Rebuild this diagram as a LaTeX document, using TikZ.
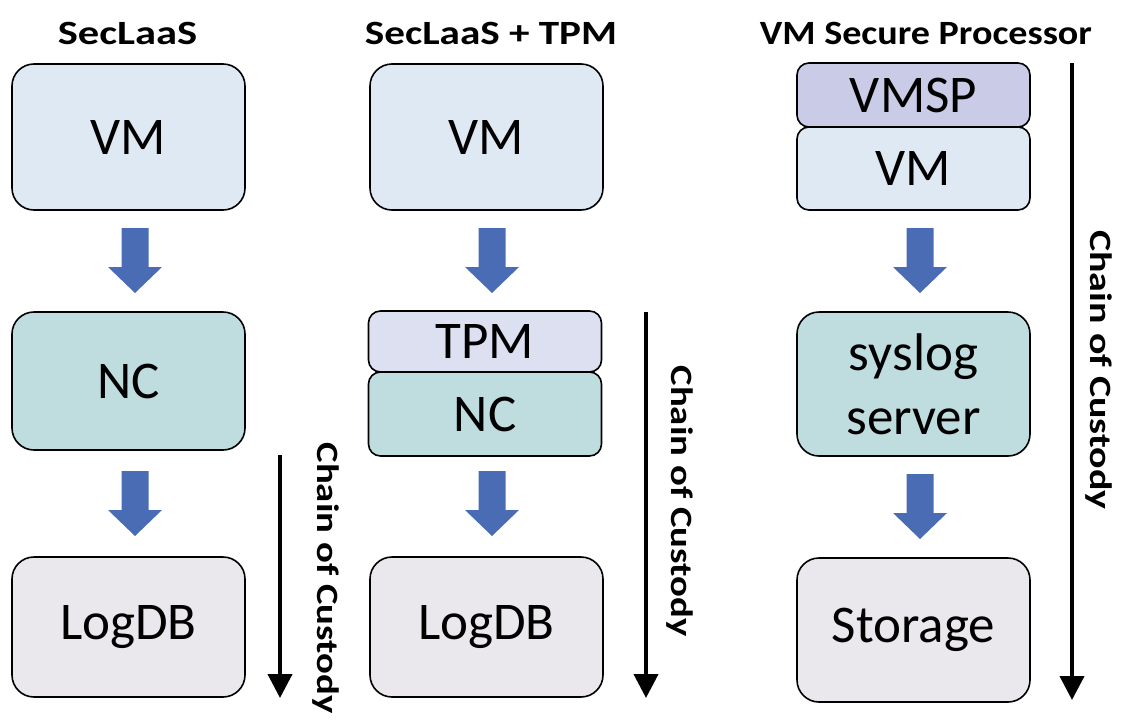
\documentclass[tikz,border=0pt]{standalone}
\usepackage{fontspec}
\setmainfont{Carlito}
\usetikzlibrary{arrows.meta,calc}
\definecolor{vmc}{HTML}{DFE9F4}
\definecolor{ncc}{HTML}{BFDCDF}
\definecolor{tpmc}{HTML}{DCE0F0}
\definecolor{vmspc}{HTML}{CACBE7}
\definecolor{dbc}{HTML}{EAE8EC}
\definecolor{blk}{HTML}{4A6CB5}
\tikzset{
  box/.style={draw=black, line width=1.6pt, rounded corners=22pt, minimum width=233pt, inner sep=0pt, font=\fontsize{53}{64}\selectfont, align=center},
  sbox/.style={box, rounded corners=12pt},
  ttl/.style={font=\fontsize{34}{40}\selectfont\bfseries},
  coc/.style={font=\fontsize{31}{36}\selectfont\bfseries, rotate=-90},
  chain/.style={line width=4pt, -{Triangle[width=24pt,length=24pt]}}
}
\newcommand{\blockarrow}[2]{% top point, bottom tip (named coordinates)
  \fill[blk] ($(#1)+(-13.5,0)$) -- ($(#1)+(13.5,0)$) -- ($(#2)+(13.5,-26)$) -- ($(#2)+(27,-26)$) -- (#2) -- ($(#2)+(-27,-26)$) -- ($(#2)+(-13.5,-26)$) -- cycle;}
\begin{document}
\begin{tikzpicture}[x=1pt,y=-1pt]
\useasboundingbox (0,0) rectangle (1127,726);
% titles
\node[ttl] (t1) at (127.5,33) {\scalebox{1.25}[1]{SecLaaS}};
\node[ttl] (t2) at (491,33) {\scalebox{1.21}[1]{SecLaaS + TPM}};
\node[ttl] (t3) at (926,33) {\scalebox{1.12}[1]{VM Secure Processor}};
% column 1
\node[box, fill=vmc, minimum height=146pt] (vm1) at (128.5,137) {VM};
\node[box, fill=ncc, minimum height=138pt] (nc1) at (128.5,381) {NC};
\node[box, fill=dbc, minimum height=140pt] (db1) at (128.5,627) {LogDB};
% column 2
\node[box, fill=vmc, minimum height=146pt] (vm2) at (486.5,137) {VM};
\node[sbox, fill=tpmc, minimum height=61pt] (tpm2) at (485,341.5) {TPM};
\node[sbox, fill=ncc, minimum height=84pt] (nc2) at (485,414) {NC};
\node[box, fill=dbc, minimum height=140pt] (db2) at (486.5,627) {LogDB};
% column 3
\node[sbox, fill=vmspc, minimum height=64pt] (vmsp3) at (913.5,95) {VMSP};
\node[sbox, fill=vmc, minimum height=83pt] (vm3) at (913.5,168.5) {VM};
\node[box, fill=ncc, minimum height=144pt] (sys3) at (913.5,384) {syslog\\server};
\node[box, fill=dbc, minimum height=144pt] (st3) at (913.5,630) {Storage};
% block arrows
\coordinate (a1t) at (135,228); \coordinate (a1b) at (135,293);
\coordinate (a2t) at (135,471); \coordinate (a2b) at (135,536);
\coordinate (a3t) at (492,228); \coordinate (a3b) at (492,293);
\coordinate (a4t) at (492,471); \coordinate (a4b) at (492,536);
\coordinate (a5t) at (920,228); \coordinate (a5b) at (920,293);
\coordinate (a6t) at (920,474); \coordinate (a6b) at (920,539);
\blockarrow{a1t}{a1b}
\blockarrow{a2t}{a2b}
\blockarrow{a3t}{a3b}
\blockarrow{a4t}{a4b}
\blockarrow{a5t}{a5b}
\blockarrow{a6t}{a6b}
% chain of custody
\coordinate (c1s) at (280,455); \coordinate (c1e) at (280,698);
\coordinate (c2s) at (646,312); \coordinate (c2e) at (646,698);
\coordinate (c3s) at (1072,63); \coordinate (c3e) at (1072,700);
\draw[chain] (c1s) -- (c1e);
\draw[chain] (c2s) -- (c2e);
\draw[chain] (c3s) -- (c3e);
\node[coc] (l1) at (326,578) {\scalebox{1.25}[1]{Chain of Custody}};
\node[coc] (l2) at (680,501) {\scalebox{1.25}[1]{Chain of Custody}};
\node[coc] (l3) at (1099,370) {\scalebox{1.29}[1]{Chain of Custody}};
\end{tikzpicture}
\end{document}
